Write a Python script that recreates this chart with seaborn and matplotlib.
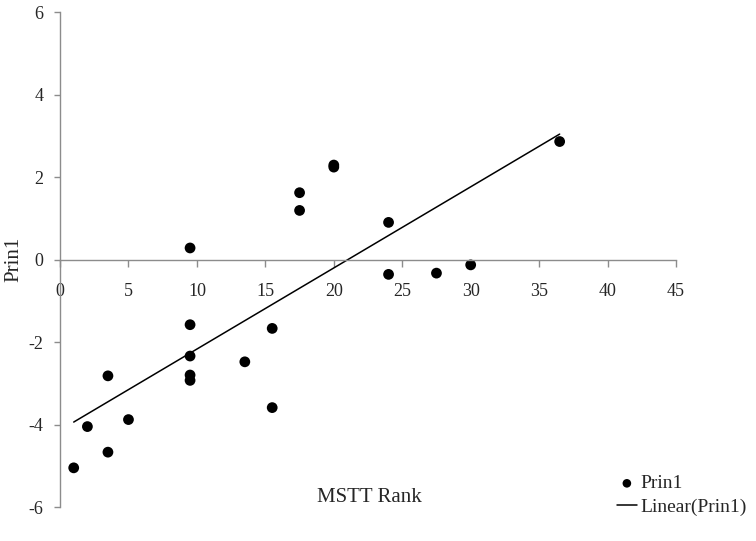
import matplotlib
matplotlib.use('Agg')
import matplotlib.pyplot as plt
import numpy as np
import pandas as pd
import seaborn as sns

# values
mstt_rank = [1, 2, 3.5, 3.5, 5, 9.5, 9.5, 9.5, 9.5, 9.5, 13.5, 15.5, 15.5,
             17.5, 17.5, 20, 20, 24, 24, 27.5, 30, 36.5]
prin1 = [-5.05, -4.05, -2.82, -4.67, -3.88, 0.28, -1.58, -2.34, -2.80, -2.93,
         -2.48, -1.67, -3.59, 1.62, 1.19, 2.29, 2.24, 0.90, -0.36, -0.33,
         -0.13, 2.86]

df = pd.DataFrame({'MSTT Rank': mstt_rank, 'Prin1': prin1})

sns.set_style('white')
plt.rcParams['font.family'] = ['Liberation Serif', 'DejaVu Serif']
plt.rcParams['axes.unicode_minus'] = False

fig = plt.figure(figsize=(7.56, 5.41), dpi=100)
ax = fig.add_axes([0.0794, 0.0628, 0.8148, 0.915])

sns.scatterplot(data=df, x='MSTT Rank', y='Prin1', color='black', s=60,
                edgecolor='none', label='Prin1', ax=ax)
sns.regplot(data=df, x='MSTT Rank', y='Prin1', scatter=False, ci=None,
            color='black', line_kws={'lw': 1.1}, label='Linear(Prin1)',
            ax=ax)

ax.set_xlim(0, 45)
ax.set_ylim(-6, 6)
ax.set_xticks(np.arange(0, 46, 5))
ax.set_yticks(np.arange(-6, 7, 2))

# axes cross at zero, like the spreadsheet chart
axis_grey = '#8c8c8c'
ax.spines['bottom'].set_position(('data', 0))
ax.spines['left'].set_position(('data', 0))
ax.spines['top'].set_visible(False)
ax.spines['right'].set_visible(False)
for s in ['bottom', 'left']:
    ax.spines[s].set_color(axis_grey)
    ax.spines[s].set_linewidth(1.0)
ax.tick_params(axis='x', direction='out', length=5, width=1, color=axis_grey,
               pad=12, labelsize=13, bottom=True)
ax.tick_params(axis='y', direction='out', length=4, width=1, color=axis_grey,
               pad=8, labelsize=13, left=True)

ax.set_xlabel('MSTT Rank', fontsize=15)
ax.set_ylabel('Prin1', fontsize=15)
ax.xaxis.set_label_coords(0.503, 0.0)
ax.yaxis.set_label_coords(-0.06, 0.501)
ax.xaxis.label.set_va('bottom')

ax.legend(loc='lower right', bbox_to_anchor=(1.115, -0.018), frameon=False,
          fontsize=14, handlelength=1.0, handletextpad=0.2, labelspacing=0.3,
          borderpad=0, borderaxespad=0, markerscale=0.8)

fig.savefig('out.png', dpi=100)
